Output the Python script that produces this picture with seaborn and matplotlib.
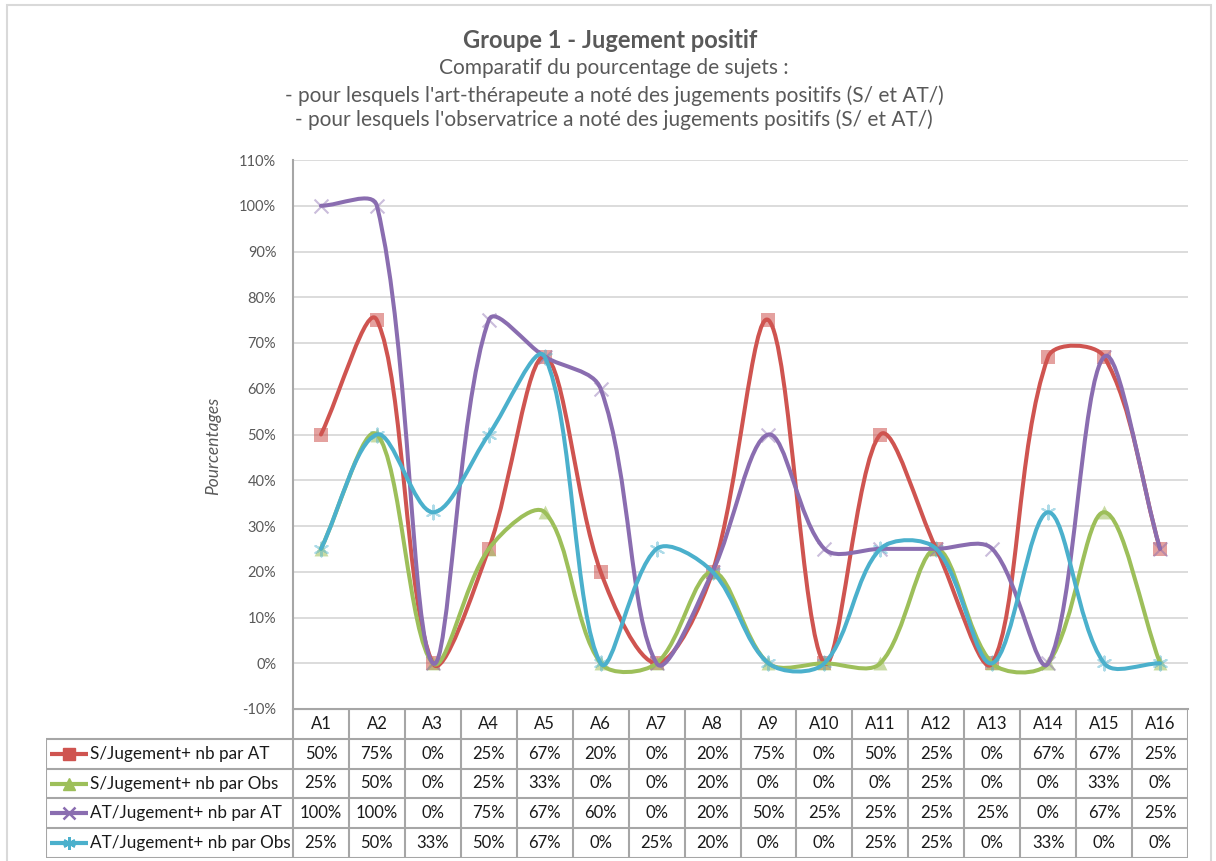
import numpy as np
import matplotlib
matplotlib.use("Agg")
import matplotlib.pyplot as plt
import seaborn as sns
from matplotlib.path import Path
from matplotlib.patches import PathPatch, Rectangle

# Donnees du graphique (pourcentages)
categories = ["A1", "A2", "A3", "A4", "A5", "A6", "A7", "A8",
              "A9", "A10", "A11", "A12", "A13", "A14", "A15", "A16"]
s_at = [50, 75, 0, 25, 67, 20, 0, 20, 75, 0, 50, 25, 0, 67, 67, 25]
s_obs = [25, 50, 0, 25, 33, 0, 0, 20, 0, 0, 0, 25, 0, 0, 33, 0]
at_at = [100, 100, 0, 75, 67, 60, 0, 20, 50, 25, 25, 25, 25, 0, 67, 25]
at_obs = [25, 50, 33, 50, 67, 0, 25, 20, 0, 0, 25, 25, 0, 33, 0, 0]
series_names = ["S/Jugement+ nb par AT", "S/Jugement+ nb par Obs",
                "AT/Jugement+ nb par AT", "AT/Jugement+ nb par Obs"]
y_ticks = list(range(-10, 111, 10))

series = [s_at, s_obs, at_at, at_obs]
colors = ["#CF5450", "#9DBF5A", "#8A6DB0", "#4BB0CC"]
markers = ["s", "^", "x", (6, 2, 0)]

sns.set_theme(style="white")
plt.rcParams["font.family"] = ["Lato", "DejaVu Sans"]

W, H = 1216, 861
fig = plt.figure(figsize=(W / 100, H / 100), dpi=100)

# bordure du graphique
fig.patches.append(Rectangle((7 / W, -0.05), 1204 / W, 1 - 5 / H + 0.05,
                             transform=fig.transFigure, fill=False,
                             edgecolor="#D9D9D9", lw=1.5, zorder=0))

ax_l, ax_r, ax_t, ax_b = 293, 1188, 160, 709
ax = fig.add_axes([ax_l / W, 1 - ax_b / H, (ax_r - ax_l) / W, (ax_b - ax_t) / H])

n = len(categories)
xpos = np.arange(n)
ax.set_xlim(-0.5, n - 0.5)
ax.set_ylim(-10, 110)
px_per_x = (ax_r - ax_l) / n
px_per_y = (ax_b - ax_t) / 120
k = px_per_y / px_per_x


def smooth_path(xs, ys):
    # courbe lissee facon Excel (bezier, tangentes ponderees par la longueur des segments)
    pts = np.column_stack([xs, ys]).astype(float)
    scr = pts * np.array([1.0, k])
    m = len(pts)
    verts = [pts[0]]
    codes = [Path.MOVETO]
    for i in range(m - 1):
        i0, i3 = max(i - 1, 0), min(i + 2, m - 1)
        p0, p1, p2, p3 = pts[i0], pts[i], pts[i + 1], pts[i3]
        d01 = np.linalg.norm(scr[i] - scr[i0])
        d12 = np.linalg.norm(scr[i + 1] - scr[i])
        d23 = np.linalg.norm(scr[i3] - scr[i + 1])
        c1 = p1 + (p2 - p0) * (d12 / (d01 + d12)) / 3
        c2 = p2 - (p3 - p1) * (d12 / (d12 + d23)) / 3
        verts += [c1, c2, p2]
        codes += [Path.CURVE4] * 3
    return Path(verts, codes)


for vals, col, mk in zip(series, colors, markers):
    ax.add_patch(PathPatch(smooth_path(xpos, vals), fill=False, edgecolor=col,
                           lw=2.9, capstyle="round", joinstyle="round", zorder=3))
    if mk == "s" or mk == "^":
        sns.scatterplot(x=xpos, y=vals, marker=mk, color=col, s=100, alpha=0.55,
                        edgecolor=col, linewidth=0, ax=ax, zorder=2, legend=False)
    else:
        sns.scatterplot(x=xpos, y=vals, marker=mk, color=col, s=100, alpha=0.45,
                        linewidth=1.5, ax=ax, zorder=2, legend=False)

ax.set_yticks(y_ticks)
ax.set_yticklabels([f"{v}%" for v in y_ticks], fontsize=10.5, color="#595959")
ax.set_xticks([])
ax.tick_params(axis="y", length=0, pad=12)
ax.yaxis.grid(True, color="#D9D9D9", lw=1.3)
ax.set_axisbelow(True)
for side in ["top", "right"]:
    ax.spines[side].set_visible(False)
ax.spines["left"].set_color("#A6A6A6")
ax.spines["left"].set_linewidth(1.5)
ax.spines["bottom"].set_color("#A6A6A6")
ax.spines["bottom"].set_linewidth(1.5)
ax.set_xlabel("")
fig.text(213 / W, 1 - 446 / H, "Pourcentages", rotation=90, style="italic",
         fontsize=12.5, color="#595959", ha="center", va="center")

# titres
fig.text(610 / W, 1 - 40 / H, "Groupe 1 - Jugement positif", fontsize=17,
         fontweight="bold", color="#595959", ha="center", va="center")
subtitles = ["Comparatif du pourcentage de sujets :",
             "- pour lesquels l'art-thérapeute a noté des jugements positifs (S/ et AT/)",
             "- pour lesquels l'observatrice a noté des jugements positifs (S/ et AT/)"]
for txt, yy in zip(subtitles, [68, 96, 120]):
    fig.text(614 / W, 1 - yy / H, txt, fontsize=15, color="#595959",
             ha="center", va="center")

# table de donnees
tb_l, tb_t, tb_b = 46, 709, 858
tab = fig.add_axes([tb_l / W, 1 - tb_b / H, (ax_r - tb_l) / W, (tb_b - tb_t) / H])
x_left = -0.5 - (ax_l - tb_l) / px_per_x
tab.set_xlim(x_left, n - 0.5)
tab.set_ylim(5, 0)
tab.axis("off")

line_kw = dict(color="#A6A6A6", lw=1.5)
tab.hlines(0, -0.5, n - 0.5, **line_kw)
tab.hlines([1, 2, 3, 4, 5], x_left, n - 0.5, **line_kw)
tab.vlines(np.arange(-0.5, n), 0, 5, **line_kw)
tab.vlines(x_left, 1, 5, **line_kw)

for i, c in enumerate(categories):
    tab.text(i, 0.5, c, ha="center", va="center", fontsize=12, color="#1A1A1A")


def px2u(p):
    return -0.5 + (p - ax_l) / px_per_x


for r, (name, vals, col, mk) in enumerate(zip(series_names, series, colors, markers)):
    yy = r + 1.5
    tab.plot([px2u(50), px2u(88)], [yy, yy], color=col, lw=3, solid_capstyle="butt")
    if mk in ("s", "^"):
        tab.plot(px2u(69), yy, marker=mk, color=col, markersize=9)
    else:
        tab.plot(px2u(69), yy, marker=mk, color=col, markersize=9, mew=1.8)
    tab.text(px2u(90), yy, name, ha="left", va="center", fontsize=12.3, color="#1A1A1A")
    for i, v in enumerate(vals):
        tab.text(i, yy, f"{v}%", ha="center", va="center", fontsize=12, color="#1A1A1A")

fig.savefig("out.png", dpi=100)
